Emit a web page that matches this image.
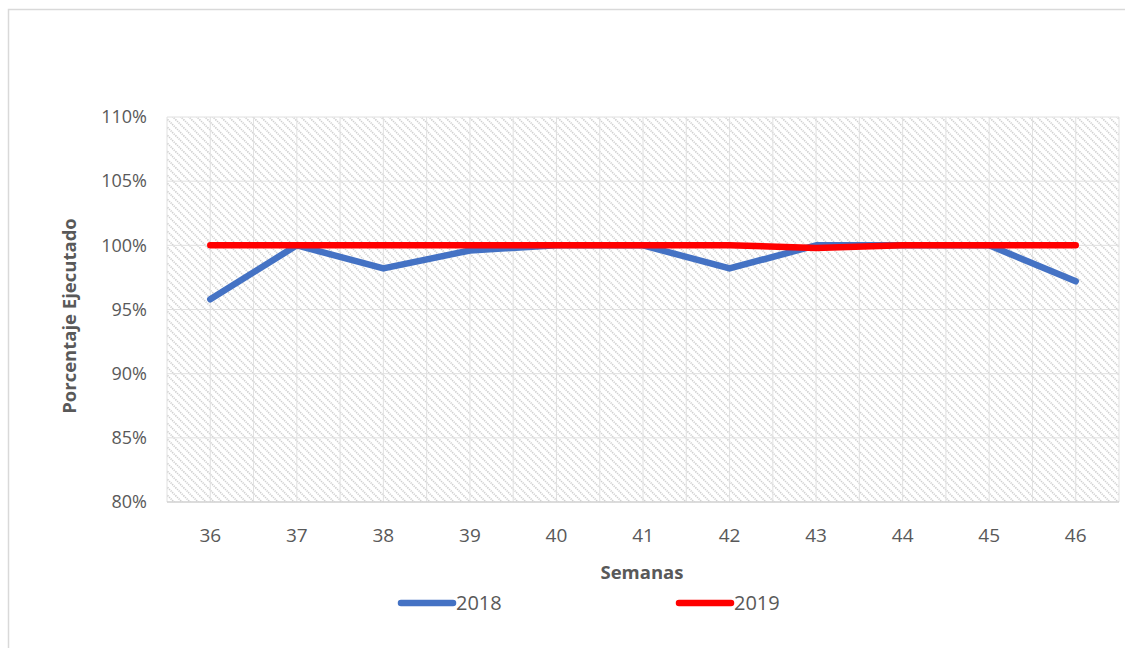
<!DOCTYPE html>
<html>
<head>
<meta charset="utf-8">
<script src="https://cdn.jsdelivr.net/npm/d3@7"></script>
<style>
  body { margin: 0; background: #fff; }
  text { font-family: "Open Sans", "Liberation Sans", sans-serif; }
</style>
</head>
<body>
<div id="chart"></div>
<script>
const weeks = ["36", "37", "38", "39", "40", "41", "42", "43", "44", "45", "46"];
const values2018 = [95.8, 100, 98.2, 99.6, 100, 100, 98.2, 100, 100, 100, 97.2];
const values2019 = [100, 100, 100, 100, 100, 100, 100, 99.8, 100, 100, 100];
const yTicks = [80, 85, 90, 95, 100, 105, 110];

const series = [
  { name: "2018", values: values2018, color: "#4472C4" },
  { name: "2019", values: values2019, color: "#FF0000" },
];

const width = 1125;
const height = 648;
const plot = { left: 167, top: 117, right: 1119, bottom: 502 };

const svg = d3
  .select("#chart")
  .append("svg")
  .attr("width", width)
  .attr("height", height);

// outer chart border (runs off the right / bottom of the picture)
svg
  .append("rect")
  .attr("x", 8.5)
  .attr("y", 9.5)
  .attr("width", 1130)
  .attr("height", 660)
  .attr("fill", "#fff")
  .attr("stroke", "#d9d9d9")
  .attr("stroke-width", 1.5);

// hatch pattern for plot area
const pattern = svg
  .append("defs")
  .append("pattern")
  .attr("id", "hatch")
  .attr("patternUnits", "userSpaceOnUse")
  .attr("width", 8)
  .attr("height", 8);
pattern.append("rect").attr("width", 8).attr("height", 8).attr("fill", "#fff");
pattern
  .append("path")
  .attr("d", "M-2,-2 L10,10 M-2,6 L2,10 M6,-2 L10,2")
  .attr("stroke", "#cfcfcf")
  .attr("stroke-width", 1.7)
  .attr("stroke-dasharray", "1.2,1");

const x = d3
  .scaleBand()
  .domain(weeks)
  .range([plot.left, plot.right]);

const y = d3
  .scaleLinear()
  .domain([80, 110])
  .range([plot.bottom, plot.top]);

svg
  .append("rect")
  .attr("x", plot.left)
  .attr("y", plot.top)
  .attr("width", plot.right - plot.left)
  .attr("height", plot.bottom - plot.top)
  .attr("fill", "url(#hatch)");

// vertical gridlines at band edges and band centres
const vLines = [];
weeks.forEach((w) => {
  vLines.push(x(w));
  vLines.push(x(w) + x.bandwidth() / 2);
});
vLines.push(plot.right);

svg
  .append("g")
  .selectAll("line")
  .data(vLines)
  .enter()
  .append("line")
  .attr("x1", (d) => d)
  .attr("x2", (d) => d)
  .attr("y1", plot.top)
  .attr("y2", plot.bottom)
  .attr("stroke", "#e0e0e0")
  .attr("stroke-width", 1);

// horizontal gridlines
svg
  .append("g")
  .selectAll("line")
  .data(yTicks)
  .enter()
  .append("line")
  .attr("x1", plot.left)
  .attr("x2", plot.right)
  .attr("y1", (d) => y(d))
  .attr("y2", (d) => y(d))
  .attr("stroke", (d) => (d === 80 ? "#d0d0d0" : "#e0e0e0"))
  .attr("stroke-width", (d) => (d === 80 ? 1.5 : 1));

// y axis labels
svg
  .append("g")
  .selectAll("text")
  .data(yTicks)
  .enter()
  .append("text")
  .attr("x", 147)
  .attr("y", (d) => y(d))
  .attr("dy", "0.35em")
  .attr("text-anchor", "end")
  .attr("font-size", 18)
  .attr("fill", "#595959")
  .text((d) => d + "%");

// x axis labels
svg
  .append("g")
  .selectAll("text")
  .data(weeks)
  .enter()
  .append("text")
  .attr("x", (d) => x(d) + x.bandwidth() / 2)
  .attr("y", 535)
  .attr("dy", "0.35em")
  .attr("text-anchor", "middle")
  .attr("font-size", 19)
  .attr("fill", "#595959")
  .text((d) => d);

// axis titles
svg
  .append("text")
  .attr("transform", "translate(70, 316) rotate(-90)")
  .attr("text-anchor", "middle")
  .attr("dy", "0.35em")
  .attr("font-size", 18.5)
  .attr("font-weight", "bold")
  .attr("fill", "#595959")
  .text("Porcentaje Ejecutado");

svg
  .append("text")
  .attr("x", 642)
  .attr("y", 573)
  .attr("dy", "0.35em")
  .attr("text-anchor", "middle")
  .attr("font-size", 18.5)
  .attr("font-weight", "bold")
  .attr("fill", "#595959")
  .text("Semanas");

// lines
const line = d3
  .line()
  .x((d, i) => x(weeks[i]) + x.bandwidth() / 2)
  .y((d) => y(d));

svg
  .append("g")
  .selectAll("path")
  .data(series)
  .enter()
  .append("path")
  .attr("d", (s) => line(s.values))
  .attr("fill", "none")
  .attr("stroke", (s) => s.color)
  .attr("stroke-width", 6.5)
  .attr("stroke-linecap", "round")
  .attr("stroke-linejoin", "round");

// legend
const legendX = [398, 676];
const legend = svg
  .append("g")
  .selectAll("g")
  .data(series)
  .enter()
  .append("g")
  .attr("transform", (s, i) => `translate(${legendX[i]}, 603)`);

legend
  .append("line")
  .attr("x1", 3)
  .attr("x2", 55)
  .attr("stroke", (s) => s.color)
  .attr("stroke-width", 6.5)
  .attr("stroke-linecap", "round");

legend
  .append("text")
  .attr("x", 58)
  .attr("dy", "0.35em")
  .attr("font-size", 20)
  .attr("fill", "#595959")
  .text((s) => s.name);
</script>
</body>
</html>
